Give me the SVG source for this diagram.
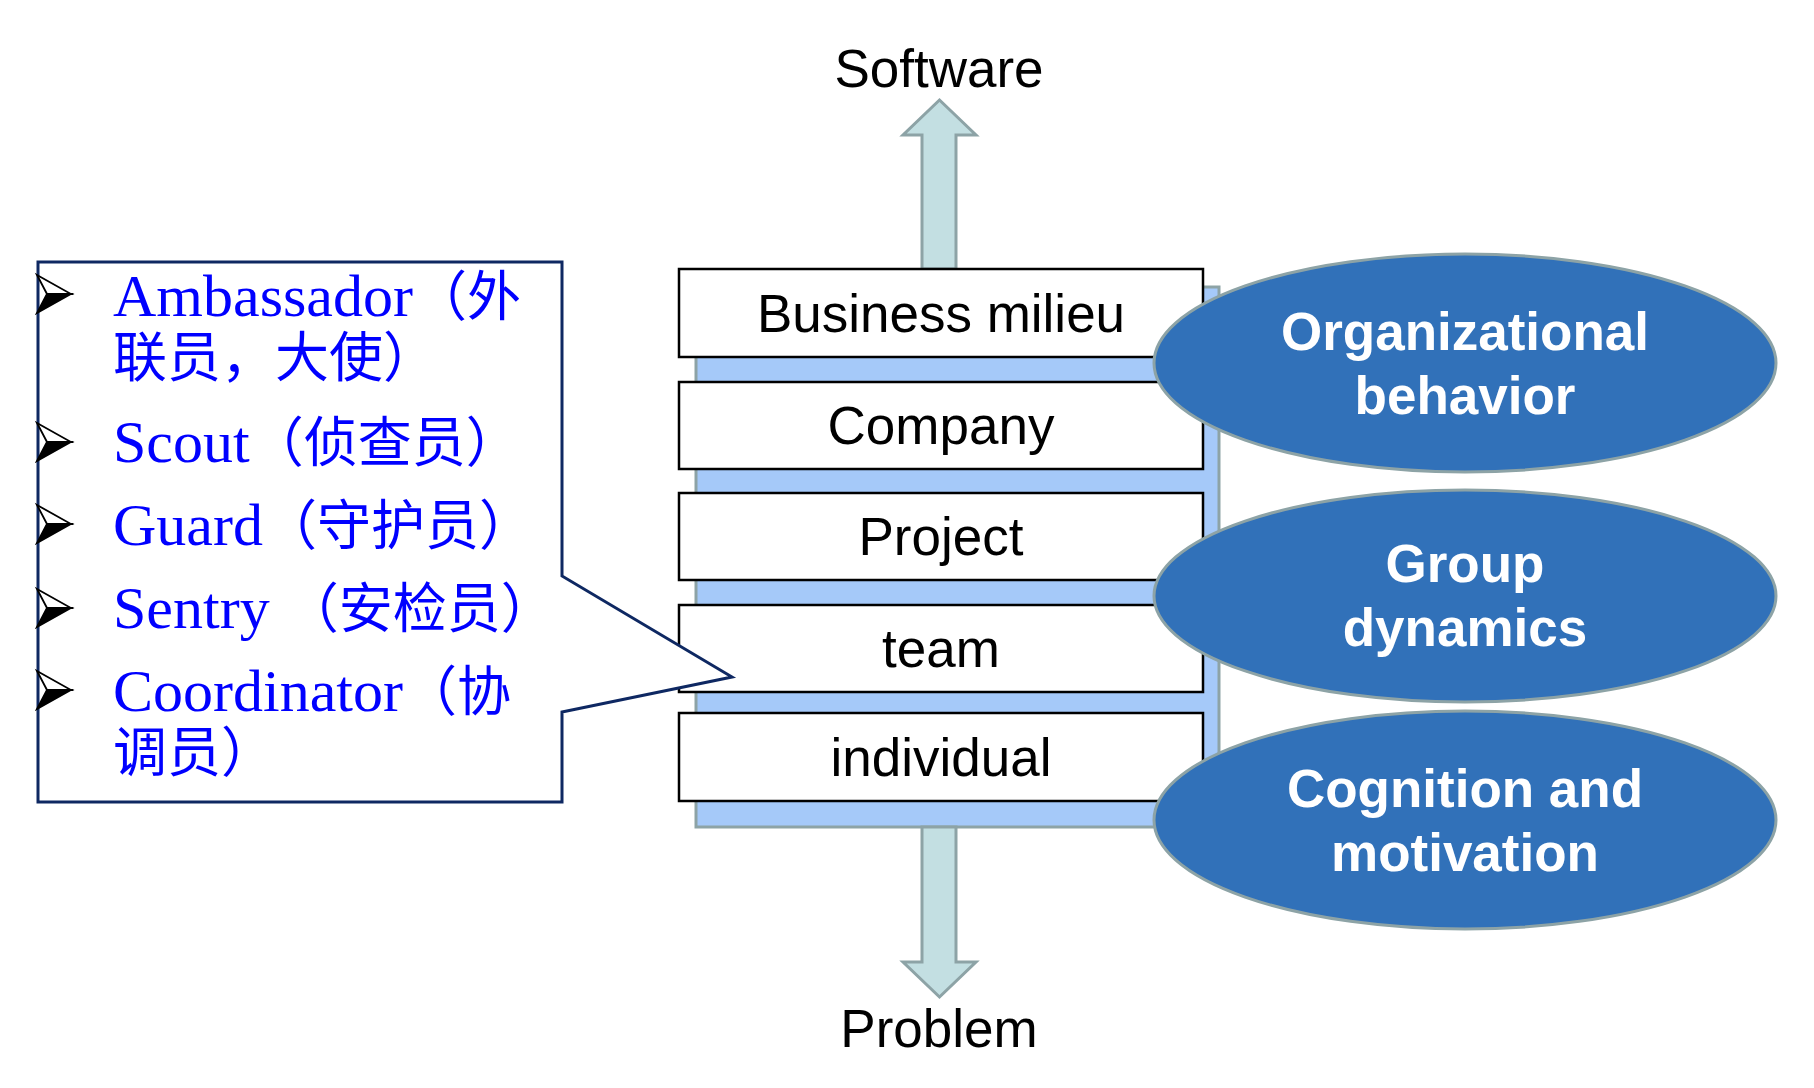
<svg xmlns="http://www.w3.org/2000/svg" width="1814" height="1088" viewBox="0 0 1814 1088">
  <style>
    .lbl { font-family: "Liberation Sans", Arial, sans-serif; font-size: 53px; fill: #000; text-anchor: middle; }
    .box { fill: #fff; stroke: #000; stroke-width: 2.5; }
    .panel { fill: #A5C9F9; stroke: #8DA3A6; stroke-width: 3; }
    .barrow { fill: #C3DFE2; stroke: #8DA3A6; stroke-width: 3; stroke-linejoin: miter; }
    .ell { fill: #3171B9; stroke: #8DA3A6; stroke-width: 3; }
    .etxt { font-family: "Liberation Sans", Arial, sans-serif; font-weight: bold; font-size: 53px; fill: #fff; text-anchor: middle; }
    .callout { fill: #fff; stroke: #0E2862; stroke-width: 3; stroke-linejoin: miter; }
    .role { font-family: "Liberation Serif", "Noto Sans CJK SC", serif; font-size: 60px; fill: #0000FF; }
    .cjk { font-family: "Noto Sans CJK SC", "Liberation Serif", sans-serif; font-size: 54px; }
  </style>
  <defs>
    <g id="bullet">
      <path d="M0,-19 L34,0 L10,0 Z" fill="#fff" stroke="#000" stroke-width="1.8" stroke-linejoin="miter"/>
      <path d="M10,0 L34,0 L0,19 Z" fill="#000" stroke="#000" stroke-width="1.8" stroke-linejoin="miter"/>
    </g>
  </defs>

  <rect width="1814" height="1088" fill="#fff"/>

  <g id="panel">
    <rect class="panel" x="696" y="287" width="523" height="540"/>
  </g>

  <g id="connectors">
    <polygon class="barrow" points="922,269 922,135 903,135 939.5,100 976,135 956,135 956,269"/>
    <polygon class="barrow" points="922,827 922,962 903,962 939.5,997 976,962 956,962 956,827"/>
  </g>

  <g id="label-software">
    <text class="lbl" x="939" y="87">Software</text>
  </g>
  <g id="label-problem">
    <text class="lbl" x="939" y="1047">Problem</text>
  </g>

  <g id="box-business">
    <rect class="box" x="679" y="269" width="524" height="88"/>
    <text class="lbl" x="941" y="332">Business milieu</text>
  </g>
  <g id="box-company">
    <rect class="box" x="679" y="382" width="524" height="87"/>
    <text class="lbl" x="941" y="444">Company</text>
  </g>
  <g id="box-project">
    <rect class="box" x="679" y="493" width="524" height="87"/>
    <text class="lbl" x="941" y="555">Project</text>
  </g>
  <g id="box-team">
    <rect class="box" x="679" y="605" width="524" height="87"/>
    <text class="lbl" x="941" y="667">team</text>
  </g>
  <g id="box-individual">
    <rect class="box" x="679" y="713" width="524" height="88"/>
    <text class="lbl" x="941" y="776">individual</text>
  </g>

  <g id="ellipse-org">
    <ellipse class="ell" cx="1465" cy="363" rx="311" ry="109"/>
    <text class="etxt" x="1465" y="350">Organizational<tspan x="1465" dy="64">behavior</tspan></text>
  </g>
  <g id="ellipse-group">
    <ellipse class="ell" cx="1465" cy="596" rx="311" ry="106"/>
    <text class="etxt" x="1465" y="582">Group<tspan x="1465" dy="64">dynamics</tspan></text>
  </g>
  <g id="ellipse-cognition">
    <ellipse class="ell" cx="1465" cy="820" rx="311" ry="109"/>
    <text class="etxt" x="1465" y="807">Cognition and<tspan x="1465" dy="64">motivation</tspan></text>
  </g>

  <g id="callout-roles">
    <path class="callout" d="M38,262 L562,262 L562,576 L732,677 L562,712 L562,802 L38,802 Z"/>
    <use href="#bullet" x="37" y="294"/>
    <use href="#bullet" x="37" y="442"/>
    <use href="#bullet" x="37" y="524"/>
    <use href="#bullet" x="37" y="608"/>
    <use href="#bullet" x="37" y="690"/>
    <text class="role" x="113" y="316">Ambassador<tspan class="cjk">（外</tspan><tspan class="cjk" x="113" y="377">联员，大使）</tspan></text>
    <text class="role" x="113" y="462">Scout<tspan class="cjk">（侦查员）</tspan></text>
    <text class="role" x="113" y="545">Guard<tspan class="cjk">（守护员）</tspan></text>
    <text class="role" x="113" y="628">Sentry <tspan class="cjk">（安检员）</tspan></text>
    <text class="role" x="113" y="711">Coordinator<tspan class="cjk">（协</tspan><tspan class="cjk" x="113" y="772">调员）</tspan></text>
  </g>
</svg>
